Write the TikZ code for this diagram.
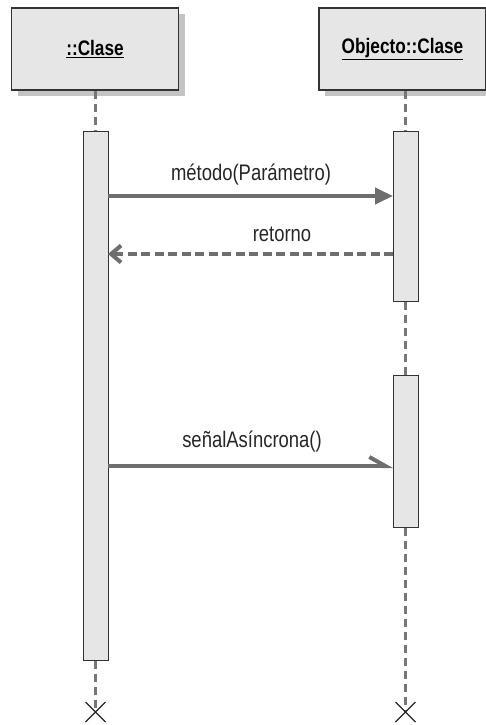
\documentclass[tikz,border=0pt]{standalone}
\usepackage{fontspec}
\setmainfont{Liberation Sans}[FakeStretch=0.82]
\usetikzlibrary{arrows.meta,shadows,calc}
\definecolor{boxfill}{HTML}{E6E6E6}
\definecolor{boxline}{HTML}{333333}
\definecolor{arrowgray}{HTML}{6E6E6E}
\definecolor{lifegray}{HTML}{777777}
\definecolor{shadowgray}{HTML}{C4C4C4}
\tikzset{
  objbox/.style={draw=boxline, line width=1.2pt, fill=boxfill, minimum width=167pt, minimum height=82pt, inner sep=0pt, font=\bfseries\fontsize{21}{24}\selectfont,
    drop shadow={shadow xshift=6pt, shadow yshift=-6pt, fill=shadowgray, opacity=1}},
  actbox/.style={draw=boxline, line width=1pt, fill=boxfill, minimum width=25pt, inner sep=0pt},
  lifeline/.style={draw=lifegray, line width=2.4pt, dash pattern=on 8pt off 5pt},
  msg/.style={draw=arrowgray, line width=4pt},
  lbl/.style={font=\fontsize{22.5}{25}\selectfont, text=black!85, inner sep=0pt},
  xmark/.style={draw=black!85, line width=1.3pt},
}
\begin{document}
\begin{tikzpicture}[x=1pt,y=-1pt]
\useasboundingbox (0,0) rectangle (485,725);
% object boxes
\node[objbox] (o1) at (95,49) {\underline{::Clase}};
\node[objbox] (o2) at (402.5,49) {\underline{Objecto::Clase}};
% activations
\node[actbox, minimum height=529pt] (a1) at (95.5,395.5) {};
\node[actbox, minimum height=170pt] (a2) at (405.5,216) {};
\node[actbox, minimum height=152pt] (a3) at (405.5,451) {};
% end coordinates
\coordinate (x1) at (95.5,712);
\coordinate (x2) at (405.5,712);
% lifelines
\draw[lifeline] (95.5,91) -- (a1.north);
\draw[lifeline] (a1.south) -- (x1);
\draw[lifeline] (405.5,91) -- (a2.north);
\draw[lifeline] (a2.south) -- (a3.north);
\draw[lifeline] (a3.south) -- (x2);
% X marks
\draw[xmark] ($(x1)+(-10,-10)$) -- ($(x1)+(10,10)$) ($(x1)+(-10,10)$) -- ($(x1)+(10,-10)$);
\draw[xmark] ($(x2)+(-10,-10)$) -- ($(x2)+(10,10)$) ($(x2)+(-10,10)$) -- ($(x2)+(10,-10)$);
% messages
\coordinate (m1s) at (108,196);
\coordinate (m1e) at (393,196);
\draw[msg, -{Triangle[length=18pt,width=16pt]}] (m1s) -- (m1e);
\node[lbl] (l1) at (251,175) {método(Parámetro)};
\coordinate (m2s) at (393,254);
\coordinate (m2e) at (108,254);
\draw[msg, dash pattern=on 9pt off 4.5pt, -{Straight Barb[length=10pt,width=17pt,line width=4pt]}] (m2s) -- (m2e);
\node[lbl] (l2) at (282,234) {retorno};
\coordinate (m3s) at (108,466);
\coordinate (m3e) at (393,466);
\draw[msg, -{Straight Barb[left,length=16pt,width=18pt,line width=4pt]}] (m3s) -- (m3e);
\node[lbl] (l3) at (252,442) {señalAsíncrona()};
\end{tikzpicture}
\end{document}
